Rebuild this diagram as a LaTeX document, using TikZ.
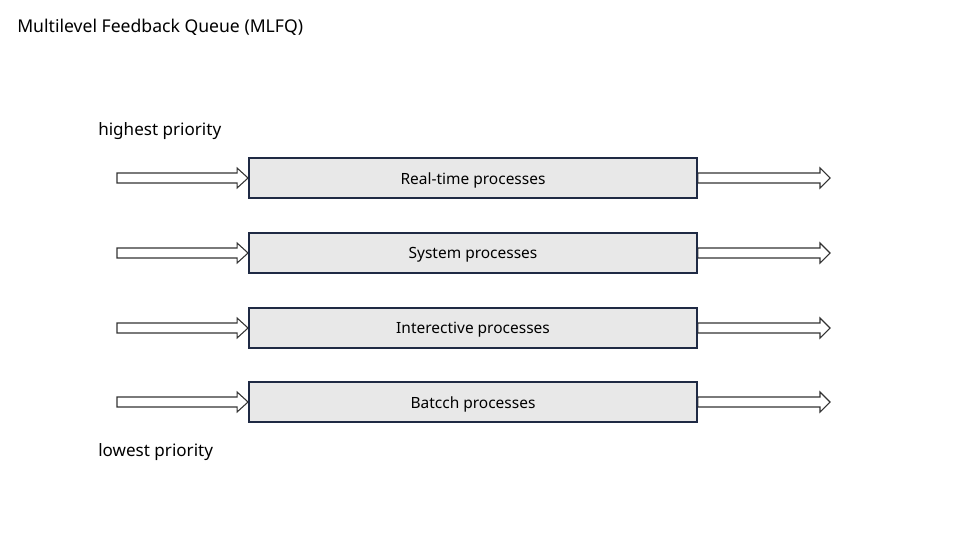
\documentclass[tikz,border=0pt]{standalone}
\usepackage{fontspec}
\setmainfont{Noto Sans}
\usetikzlibrary{calc}
\definecolor{boxfill}{HTML}{E8E8E8}
\definecolor{boxline}{HTML}{1F2A44}
\definecolor{arrowline}{HTML}{333333}
\begin{document}
\begin{tikzpicture}[x=0.75pt,y=-0.75pt,
    queue/.style = {draw=boxline,line width=1.4pt,fill=boxfill,minimum width=336pt,minimum height=30pt,inner sep=0pt,font=\fontsize{11.6}{13}\selectfont},
    blockarrow/.style = {draw=arrowline,line width=0.8pt,fill=white,line join=miter},
    label/.style = {anchor=west,inner sep=0pt,font=\fontsize{12.8}{15}\selectfont}]
  \useasboundingbox (0,0) rectangle (960,540);
  \node[label,font=\fontsize{13.2}{15}\selectfont] (title) at (17,27) {Multilevel Feedback Queue (MLFQ)};
  \node[label] (high) at (98,131) {highest priority};
  \node[label] (low) at (98,452) {lowest priority};
  % queues, from highest to lowest priority
  \foreach \i/\y/\txt in {1/178/Real-time processes,2/253/System processes,3/328/Interective processes,4/402/Batcch processes}{
    \node[queue] (q\i) at (473,\y) {};
    \coordinate (in\i) at (117,\y);
    \coordinate (out\i) at (830,\y);
    \draw[blockarrow] ($(in\i)+(0,-5)$) -- ($(q\i.west)+(-11,-5)$) -- ++(0,-5) -- (q\i.west)
      -- ++(-11,10) -- ++(0,-5) -- ($(in\i)+(0,5)$) -- cycle;
    \draw[blockarrow] ($(q\i.east)+(0,-5)$) -- ($(out\i)+(-10,-5)$) -- ++(0,-5) -- (out\i)
      -- ++(-10,10) -- ++(0,-5) -- ($(q\i.east)+(0,5)$) -- cycle;
    \node[queue] at (q\i) {};
    \node[inner sep=0pt,font=\fontsize{11.6}{13}\selectfont] (t\i) at ($(q\i)+(0,2)$) {\txt};
  }
\end{tikzpicture}
\end{document}
